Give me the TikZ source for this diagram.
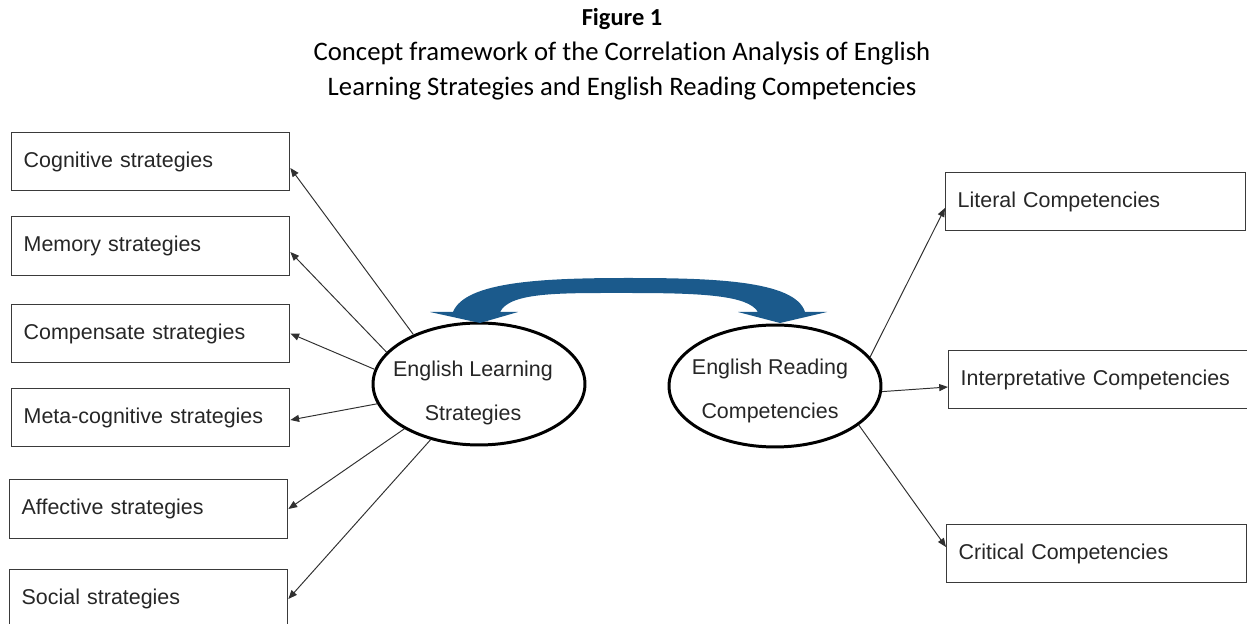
\documentclass[tikz,border=0pt]{standalone}
\usepackage{fontspec}
\setmainfont{Liberation Sans}
\newfontfamily\titlefont[Ligatures=NoCommon]{Carlito}
\usetikzlibrary{
  arrows.meta,
  positioning,
  shapes.geometric
}
\definecolor{arcblue}{HTML}{1B5A8C}
\definecolor{boxgray}{HTML}{3A3A3A}
\definecolor{txtgray}{HTML}{262626}
\definecolor{linkgray}{HTML}{303030}

\begin{document}
\begin{tikzpicture}[
        x=0.02cm, y=-0.02cm,
        >={Triangle[length=5pt,width=4pt]},
        stratbox/.style={draw=boxgray, line width=0.8pt, minimum height=1.17cm, text width=5.08cm, inner xsep=0.24cm, align=left, anchor=west, text=txtgray, font=\fontsize{12.2}{14}\selectfont},
        compbox/.style={stratbox, text width=5.52cm},
        hub/.style={ellipse, draw=black, line width=1.7pt, minimum width=4.24cm, minimum height=2.44cm, inner sep=0pt},
        hubtext/.style={align=center, text=txtgray, font=\fontsize{12.2}{25}\selectfont},
        link/.style={->, linkgray, line width=0.55pt}
    ]
        \clip (0,0) rectangle (1247,624);
        % Titel
        \node[font=\titlefont\fontsize{15.2}{19.8}\selectfont, align=center] (title) at (622,54)
            {{\fontsize{13.9}{19.8}\selectfont\textbf{Figure 1}}\\Concept framework of the Correlation Analysis of English\\Learning Strategies and English Reading Competencies};
        % Strategien links
        \node[stratbox] (cog) at (11,161.5) {Cognitive strategies};
        \node[stratbox] (mem) at (11,246) {Memory strategies};
        \node[stratbox] (comp) at (11,333.5) {Compensate strategies};
        \node[stratbox] (meta) at (11,417.5) {Meta-cognitive strategies};
        \node[stratbox] (aff) at (9,509) {Affective strategies};
        \node[stratbox] (soc) at (9,599) {Social strategies};
        % Kompetenzen rechts
        \node[compbox] (lit) at (945,201.5) {Literal Competencies};
        \node[compbox, text width=7cm] (int) at (948,379.5) {Interpretative Competencies};
        \node[compbox] (crit) at (946,553.5) {Critical Competencies};
        % Ellipsen
        \node[hub] (ls) at (479,384) {};
        \node[hub] (rc) at (775,386) {};
        \node[hubtext] (lstext) at (473,393) {English Learning\\Strategies};
        \node[hubtext] (rctext) at (770,391) {English Reading\\Competencies};
        % Doppelpfeil oben
        \fill[arcblue] (430,312) -- (480,323) -- (518,312) -- (500,312)
            .. controls (510,292) and (560,293) .. (628,293)
            .. controls (700,293) and (748,295) .. (758,312)
            -- (738,312) -- (780,323) -- (827,312) -- (805,312)
            .. controls (795,280) and (710,278) .. (628,278)
            .. controls (540,278) and (465,282) .. (453,312) -- cycle;
        % Verbindungen
        \draw[link] (ls.143) -- ([yshift=-0.13cm]cog.east);
        \draw[link] (ls.161) -- ([yshift=-0.12cm]mem.east);
        \draw[link] (ls.172) -- (comp.east);
        \draw[link] (ls.191) -- ([yshift=-0.05cm]meta.east);
        \draw[link] (ls.211) -- (aff.east);
        \draw[link] (ls.229) -- (soc.east);
        \draw[link] (rc.17) -- ([yshift=-0.13cm]lit.west);
        \draw[link] (rc.357) -- ([yshift=-0.15cm]int.west);
        \draw[link] (rc.335) -- ([yshift=0.13cm]crit.west);
\end{tikzpicture}
\end{document}
